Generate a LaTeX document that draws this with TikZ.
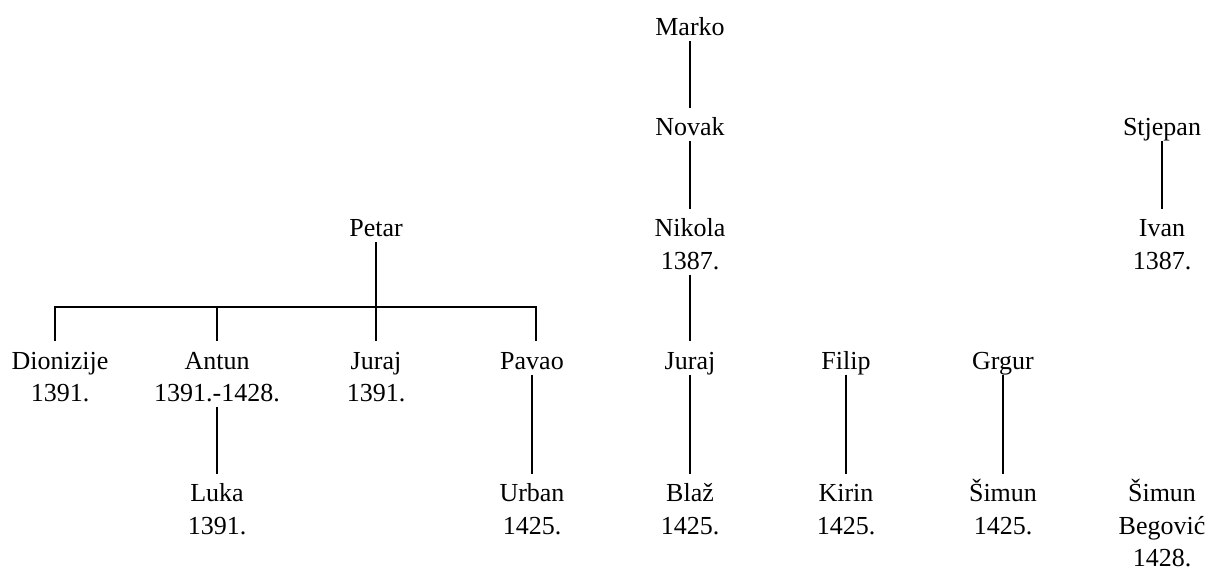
\documentclass[tikz,border=0pt]{standalone}
\usepackage{fontspec}
\setmainfont{Liberation Serif}
\newcommand\TopS{\rule{0pt}{14pt}}
\newcommand\BotS{\rule[-2.75pt]{0pt}{2.75pt}}
\begin{document}
\begin{tikzpicture}[x=0.5pt,y=-0.5pt,
  person/.style={inner sep=0pt,outer sep=0pt,align=center,anchor=north,
    font=\fontsize{13pt}{16.25pt}\selectfont},
  link/.style={line width=1pt}]
\useasboundingbox (0,0) rectangle (1208,570);
% row 1
\node[person] (marko) at (690,7.5) {\TopS Marko\BotS};
% row 2
\node[person] (novak) at (690,107.5) {\TopS Novak\BotS};
\node[person] (stjepan) at (1162,107.5) {\TopS Stjepan\BotS};
% row 3
\node[person] (petar) at (376,208.5) {\TopS Petar\BotS};
\node[person] (nikola) at (690,208.5) {\TopS Nikola\\1387.\BotS};
\node[person] (ivan) at (1162,208.5) {\TopS Ivan\\1387.\BotS};
% row 4
\node[person] (dion) at (60,341) {\TopS Dionizije\\1391.\BotS};
\node[person] (antun) at (217,341) {\TopS Antun\\1391.-1428.\BotS};
\node[person] (jurajA) at (376,341) {\TopS Juraj\\1391.\BotS};
\node[person] (pavao) at (532,341) {\TopS Pavao\BotS};
\node[person] (jurajB) at (690,341) {\TopS Juraj\BotS};
\node[person] (filip) at (846,341) {\TopS Filip\BotS};
\node[person] (grgur) at (1003,341) {\TopS Grgur\BotS};
% row 5
\node[person] (luka) at (217,473.5) {\TopS Luka\\1391.\BotS};
\node[person] (urban) at (532,473.5) {\TopS Urban\\1425.\BotS};
\node[person] (blaz) at (690,473.5) {\TopS Blaž\\1425.\BotS};
\node[person] (kirin) at (846,473.5) {\TopS Kirin\\1425.\BotS};
\node[person] (simun) at (1003,473.5) {\TopS Šimun\\1425.\BotS};
\node[person] (simunb) at (1162,473.5) {\TopS Šimun\\Begović\\1428.\BotS};
% connectors
\coordinate (bar) at (0,307);
\draw[link] (marko.south) -- (novak.north);
\draw[link] (novak.south) -- (nikola.north);
\draw[link] (nikola.south) -- (jurajB.north);
\draw[link] (jurajB.south) -- (blaz.north);
\draw[link] (filip.south) -- (kirin.north);
\draw[link] (grgur.south) -- (simun.north);
\draw[link] (stjepan.south) -- (ivan.north);
\draw[link] (antun.south) -- (luka.north);
\draw[link] (pavao.south) -- (urban.north);
\draw[link] (petar.south) -- (jurajA.north);
\draw[link] ([xshift=-2.5pt]dion.north) |- ([xshift=2pt]pavao.north |- bar) -- ([xshift=2pt]pavao.north);
\draw[link] (antun.north) -- (antun.north |- bar);
\end{tikzpicture}
\end{document}
